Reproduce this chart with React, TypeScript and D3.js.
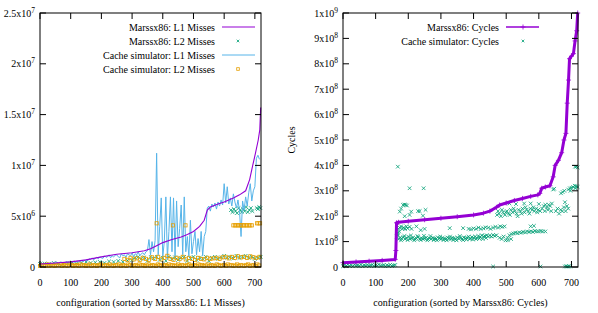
import React from "react";
import * as d3 from "d3";

// ---- shared ----
const configTicks = [0, 100, 200, 300, 400, 500, 600, 700];

// ---- left panel: misses, values in units of 1e6 ----
const missTickVals = [0, 5, 10, 15, 20, 25];
const missTickLabels = [["0", ""], ["5x10", "6"], ["1x10", "7"], ["1.5x10", "7"], ["2x10", "7"], ["2.5x10", "7"]];

// Marssx86 L1 misses (sorted, so it only goes up)
const marssL1Idx = [0, 50, 100, 150, 200, 250, 300, 340, 360, 380, 400, 430, 460, 480, 500, 520, 535, 545, 555, 580, 600, 630, 650, 670, 683, 693, 702, 711, 716, 719];
const marssL1 = [0.3, 0.4, 0.5, 0.7, 1.0, 1.25, 1.4, 1.6, 1.8, 2.1, 2.4, 2.7, 2.95, 3.2, 3.5, 4.0, 4.6, 5.6, 5.9, 6.2, 6.4, 6.8, 7.1, 7.5, 8.6, 10.0, 11.2, 12.5, 13.5, 15.7];

// Cache simulator L1 misses, one value every 5 configurations
const simL1Step = 5;
const simL1 = [
  0.25, 0.3, 0.2, 0.35, 0.3, 0.25, 0.4, 0.3, 0.35, 0.3,
  0.4, 0.45, 0.3, 0.4, 0.5, 0.35, 0.45, 0.4, 0.5, 0.45,
  0.4, 0.55, 0.5, 0.45, 0.6, 0.5, 0.55, 0.6, 0.5, 0.65,
  0.7, 0.6, 0.8, 0.75, 0.9, 0.7, 0.85, 0.95, 0.8, 1.0,
  0.9, 0.85, 1.1, 0.95, 1.0, 1.2, 0.9, 1.1, 1.0, 1.15,
  1.2, 1.0, 0.9, 1.3, 1.1, 1.2, 0.95, 1.3, 1.2, 1.1,
  1.4, 1.0, 1.3, 1.2, 1.5, 1.1, 1.3, 1.4, 1.2, 1.5,
  1.6, 2.7, 1.2, 2.5, 1.5, 2.6,
  11.2,
  1.2, 4.0, 6.8, 1.0, 2.5, 6.9, 0.8, 3.5, 6.9, 1.5,
  6.8, 1.0, 6.5, 2.0, 3.8, 6.1, 1.2, 6.9, 1.5, 3.0,
  1.0, 4.6, 1.3, 2.5, 3.5, 1.2, 2.8, 1.5, 3.5, 1.1,
  3.0, 3.5,
  5.8, 6.0, 5.5, 6.2, 5.9, 6.3, 5.7, 6.4, 6.0, 6.6,
  6.1, 8.2, 6.3, 7.9, 6.2, 6.8, 6.0, 7.2, 6.4, 5.8,
  6.6, 5.5, 3.0, 6.5, 5.6, 6.9, 6.0, 7.3, 8.2, 6.5,
  7.5, 7.9,
  10.7, 11.0, 10.6,
];

// Marssx86 L2 misses: [configuration, value]
const marssL2: [number, number][] = [
  [0, 0.3], [15, 0.35], [30, 0.3], [45, 0.4], [60, 0.35], [75, 0.3], [90, 0.4], [105, 0.45], [120, 0.35], [135, 0.4],
  [150, 0.5], [165, 0.4], [180, 0.45], [195, 0.5], [210, 0.4], [225, 0.55], [240, 0.5], [255, 0.6], [270, 0.5], [285, 0.65],
  [300, 0.7], [310, 0.9], [320, 1.0], [330, 0.8], [340, 0.95], [350, 0.6], [360, 1.0], [370, 0.85], [380, 1.0], [390, 0.7],
  [400, 0.9], [410, 0.6], [420, 1.0], [430, 0.8], [440, 0.95], [450, 0.7], [460, 0.9], [470, 1.0], [480, 0.6], [490, 0.85],
  [500, 1.0], [510, 0.7], [520, 0.9], [530, 0.8], [540, 1.0], [550, 0.6], [560, 0.9], [570, 1.0], [580, 0.8], [590, 0.95],
  [600, 1.1], [610, 0.9], [620, 1.0], [630, 0.85], [640, 1.1], [650, 0.9], [660, 1.0], [670, 1.1], [680, 0.9], [690, 1.0],
  [700, 0.8], [710, 0.9], [719, 1.0],
  [622, 5.6], [627, 5.4], [632, 5.7], [637, 5.5], [642, 5.3], [647, 5.8], [652, 5.6], [657, 5.4], [662, 5.7], [667, 5.5],
  [672, 5.9], [677, 5.4], [682, 5.6], [687, 5.8], [692, 5.5], [706, 5.8], [710, 5.7], [714, 5.9], [718, 5.8],
];

// Cache simulator L2 misses: the low band, one value every 6 configurations
const simL2BaseStep = 6;
const simL2Base = [
  0.1, 0.2, 0.15, 0.1, 0.25, 0.1, 0.2, 0.15, 0.1, 0.2,
  0.15, 0.25, 0.1, 0.2, 0.15, 0.1, 0.25, 0.2, 0.1, 0.15,
  0.2, 0.1, 0.25, 0.15, 0.2, 0.1, 0.15, 0.25, 0.1, 0.2,
  0.15, 0.1, 0.2, 0.25, 0.1, 0.15, 0.2, 0.1, 0.25, 0.15,
  0.1, 0.2, 0.15, 0.25, 0.1, 0.2, 0.15, 0.1, 0.25, 0.2,
  0.1, 0.15, 0.2, 0.1, 0.25, 0.15, 0.2, 0.1, 0.15, 0.25,
  0.1, 0.2, 0.15, 0.1, 0.25, 0.2, 0.1, 0.15, 0.2, 0.1,
  0.25, 0.15, 0.2, 0.1, 0.15, 0.25, 0.1, 0.2, 0.15, 0.1,
  0.2, 0.25, 0.1, 0.15, 0.2, 0.1, 0.25, 0.15, 0.2, 0.1,
  0.15, 0.25, 0.1, 0.2, 0.15, 0.1, 0.25, 0.2, 0.1, 0.15,
  0.2, 0.1, 0.25, 0.15, 0.2, 0.1, 0.15, 0.25, 0.1, 0.2,
  0.15, 0.1, 0.2, 0.25, 0.1, 0.15, 0.2, 0.1, 0.25, 0.15,
];
// the rest of the cache simulator L2 points: [configuration, value]
const simL2: [number, number][] = [
  [275, 0.8], [285, 0.7], [295, 0.9], [305, 0.75], [315, 0.85], [325, 0.7], [335, 0.9], [345, 0.8], [355, 0.7], [365, 0.95],
  [375, 0.8], [385, 1.0], [395, 0.75], [405, 0.9], [415, 1.1], [425, 0.8], [435, 0.7], [445, 0.9], [455, 0.8], [465, 1.0],
  [475, 0.75], [485, 0.9], [495, 0.8], [505, 0.7], [515, 0.9], [525, 0.8], [535, 0.75], [545, 0.9], [555, 0.8], [565, 0.85],
  [575, 0.9], [585, 0.8], [595, 0.95], [605, 1.0], [615, 0.85], [625, 1.0], [635, 0.9], [645, 1.05], [655, 0.95], [665, 1.0],
  [675, 0.9], [685, 1.05], [695, 0.95], [705, 0.9], [715, 1.0],
  [380, 4.3], [433, 4.1], [474, 4.1],
  [630, 4.1], [635, 4.1], [640, 4.1], [645, 4.1], [650, 4.1], [655, 4.1], [660, 4.1], [665, 4.1], [670, 4.1], [675, 4.1],
  [680, 4.1], [685, 4.1], [690, 4.1], [707, 4.3], [712, 4.3], [717, 4.3],
];

// ---- right panel: cycles, values in units of 1e8 ----
const cycleTickVals = [0, 1, 2, 3, 4, 5, 6, 7, 8, 9, 10];
const cycleTickLabels = [["0", ""], ["1x10", "8"], ["2x10", "8"], ["3x10", "8"], ["4x10", "8"], ["5x10", "8"], ["6x10", "8"], ["7x10", "8"], ["8x10", "8"], ["9x10", "8"], ["1x10", "9"]];

const marssCyclesIdx = [0, 40, 80, 120, 160, 162, 164, 170, 200, 250, 300, 350, 400, 430, 450, 470, 480, 500, 525, 550, 575, 597, 603, 609, 620, 634, 644, 650, 660, 670, 677, 683, 687, 691, 694, 700, 706, 711, 716, 719];
const marssCycles = [0.17, 0.2, 0.23, 0.26, 0.3, 0.65, 1.74, 1.76, 1.8, 1.86, 1.92, 1.98, 2.05, 2.12, 2.2, 2.35, 2.44, 2.52, 2.62, 2.7, 2.78, 2.84, 2.9, 3.1, 3.15, 3.2, 3.55, 4.0, 4.2, 4.5, 5.0, 5.26, 6.45, 7.36, 8.2, 8.3, 8.4, 8.9, 9.3, 10.0];

// cache simulator cycles below config 160, one value every 5 configurations
const simCyclesLowStep = 5;
const simCyclesLow = [0.03, 0.08, 0.05, 0.1, 0.04, 0.07, 0.03, 0.09, 0.05, 0.06, 0.04, 0.1, 0.03, 0.07, 0.05, 0.08, 0.04, 0.06, 0.09, 0.03, 0.07, 0.05, 0.1, 0.04, 0.06, 0.08, 0.03, 0.07, 0.05, 0.09, 0.04, 0.06, 0.08];
const simCycles: [number, number][] = [
  [165, 1.2], [170, 1.1], [175, 1.15], [180, 1.12], [185, 1.18], [190, 1.1], [195, 1.14], [200, 1.2], [205, 1.1], [210, 1.13],
  [215, 1.16], [220, 1.1], [225, 1.12], [230, 1.18], [235, 1.1], [240, 1.14], [245, 1.1], [250, 1.12], [255, 1.16], [260, 1.1],
  [265, 1.13], [270, 1.1], [275, 1.15], [280, 1.12], [285, 1.1], [290, 1.17], [295, 1.12], [300, 1.1], [305, 1.15], [310, 1.12],
  [315, 1.1], [320, 1.16], [325, 1.12], [330, 1.1], [335, 1.15], [340, 1.13], [345, 1.1], [350, 1.16], [355, 1.12], [360, 1.14],
  [365, 1.1], [370, 1.17], [375, 1.13], [380, 1.15], [385, 1.2], [390, 1.12], [395, 1.18], [400, 1.15], [405, 1.2], [410, 1.14],
  [415, 1.22], [420, 1.18], [425, 1.25], [430, 1.2], [435, 1.22], [440, 1.25], [445, 1.2], [450, 1.24], [455, 1.2], [460, 1.26],
  [465, 1.22], [470, 1.25],
  [168, 1.25], [178, 1.05], [188, 1.22], [198, 1.06], [208, 1.24], [218, 1.05], [228, 1.22], [238, 1.06], [248, 1.23], [258, 1.05],
  [268, 1.22], [278, 1.06], [288, 1.05], [298, 1.2], [308, 1.06], [318, 1.05], [328, 1.2], [338, 1.06], [348, 1.05], [358, 1.22],
  [368, 1.06], [378, 1.08], [388, 1.1], [398, 1.08], [408, 1.1], [418, 1.12], [428, 1.1], [438, 1.14],
  [166, 1.3], [168, 1.35], [170, 1.5], [172, 1.4], [174, 1.55], [178, 1.6], [182, 1.5], [186, 1.55], [190, 1.5], [194, 1.6],
  [198, 1.52], [204, 1.58], [210, 1.5], [225, 1.6], [238, 1.45], [250, 1.5], [327, 1.53], [368, 1.53],
  [168, 3.95], [174, 2.18], [178, 2.3], [184, 2.44], [188, 2.46], [192, 2.45], [196, 2.42], [189, 2.0], [204, 2.05], [209, 2.18],
  [204, 3.1], [230, 2.2], [235, 2.2], [245, 2.02], [247, 3.1], [253, 2.25],
  [385, 1.5], [392, 1.48], [400, 1.52], [408, 1.5], [415, 1.55], [422, 1.5], [430, 1.52], [437, 1.56], [445, 1.55], [452, 1.5],
  [460, 1.55], [467, 1.58], [475, 1.55], [482, 1.6], [488, 1.58], [495, 1.6],
  [472, 2.05], [478, 2.1], [484, 2.0], [490, 2.15], [496, 2.05], [502, 2.2], [508, 2.1], [514, 2.25], [520, 2.15], [526, 2.2],
  [532, 2.1], [538, 2.25], [544, 2.2], [550, 2.3], [556, 2.15], [562, 2.25], [568, 2.2], [574, 2.3], [580, 2.25], [586, 2.2],
  [592, 2.3], [598, 2.25], [604, 2.2], [610, 2.3],
  [475, 2.2], [487, 2.25], [499, 2.15], [511, 2.05], [523, 2.3], [535, 2.0], [547, 2.1], [559, 2.35], [571, 2.1], [583, 2.35], [595, 2.15],
  [510, 2.5], [530, 2.48], [555, 2.5], [575, 2.5], [600, 2.48],
  [480, 1.15], [486, 1.1], [492, 1.2], [498, 1.05], [504, 1.15], [510, 1.25], [516, 1.3], [522, 1.32], [528, 1.35], [534, 1.33],
  [540, 1.36], [546, 1.35], [552, 1.38], [558, 1.36], [564, 1.4], [570, 1.38], [576, 1.4], [582, 1.38], [588, 1.42], [594, 1.4],
  [600, 1.4], [606, 1.42], [612, 1.4], [620, 1.4], [575, 1.6], [585, 1.62], [505, 1.05], [515, 1.1],
  [615, 2.4], [620, 2.45], [625, 2.35], [630, 2.45], [635, 2.4], [640, 2.5], [618, 2.2], [628, 2.25], [638, 2.2],
  [644, 3.05], [647, 3.08],
  [652, 2.2], [657, 2.3], [662, 2.1], [667, 2.25], [672, 2.2], [677, 2.35], [682, 2.2], [686, 2.4], [690, 2.3], [680, 2.55],
  [668, 2.9], [673, 2.95], [678, 3.0], [690, 3.05], [695, 3.1], [700, 3.12], [705, 3.15], [710, 3.2], [715, 3.18], [719, 3.15],
  [712, 3.1], [697, 3.0],
  [711, 3.95], [715, 3.95], [719, 3.92],
  [460, 0.02], [605, 0.02], [680, 0.02], [684, 0.03], [688, 0.02], [692, 0.03], [696, 0.02],
];

const PURPLE = "#9400d3";
const GREEN = "#009e73";
const BLUE = "#56b4e9";
const ORANGE = "#e69f00";
const FONT = "'Liberation Serif', 'Times New Roman', serif";

const top = 13, bottom = 267;

function Cross({ x, y, s = 1.8 }) {
  return <path d={`M${x - s},${y - s}L${x + s},${y + s}M${x - s},${y + s}L${x + s},${y - s}`} stroke={GREEN} strokeWidth={0.8} fill="none" />;
}
function Square({ x, y, s = 1.6 }) {
  return <rect x={x - s} y={y - s} width={2 * s} height={2 * s} stroke={ORANGE} strokeWidth={0.8} fill="none" />;
}
function Plus({ x, y, s = 2.5 }) {
  return <path d={`M${x - s},${y}H${x + s}M${x},${y - s}V${y + s}`} stroke={PURPLE} strokeWidth={0.8} fill="none" />;
}

function Label({ x, y, base, exp, anchor = "end" }) {
  return (
    <text x={x} y={y} textAnchor={anchor} fontFamily={FONT} fontSize={10} fill="#000">
      {base}
      {exp && <tspan dy={-4} fontSize={7.5}>{exp}</tspan>}
    </text>
  );
}

// frame, ticks on all four sides (pointing in), tick labels
function Frame({ x, y, yTicks, yLabels, xLabel }) {
  const [x0, x1] = x.range();
  return (
    <g>
      {configTicks.map((t) => (
        <g key={"x" + t}>
          <line x1={x(t)} x2={x(t)} y1={bottom} y2={bottom - 6} stroke="#000" />
          <line x1={x(t)} x2={x(t)} y1={top} y2={top + 6} stroke="#000" />
          <text x={x(t)} y={286} textAnchor="middle" fontFamily={FONT} fontSize={10}>{t}</text>
        </g>
      ))}
      {yTicks.map((t, i) => (
        <g key={"y" + t}>
          <line x1={x0} x2={x0 + 6} y1={y(t)} y2={y(t)} stroke="#000" />
          <line x1={x1} x2={x1 - 6} y1={y(t)} y2={y(t)} stroke="#000" />
          <Label x={x0 - 5} y={y(t) + 3.5} base={yLabels[i][0]} exp={yLabels[i][1]} />
        </g>
      ))}
      <rect x={x0} y={top} width={x1 - x0} height={bottom - top} fill="none" stroke="#000" />
      <text x={(x0 + x1) / 2} y={306} textAnchor="middle" fontFamily={FONT} fontSize={10}>{xLabel}</text>
    </g>
  );
}

function LeftPanel() {
  const x = d3.scaleLinear().domain([0, 720]).range([40, 261]);
  const y = d3.scaleLinear().domain([0, 25]).range([bottom, top]);
  const line = d3.line<[number, number]>().x((d) => x(d[0])).y((d) => y(d[1]));
  const l1 = marssL1Idx.map((c, i) => [c, marssL1[i]] as [number, number]);
  const sim = simL1.map((v, i) => [i * simL1Step, v] as [number, number]);
  const base = simL2Base.map((v, i) => [i * simL2BaseStep, v] as [number, number]);
  const legendText = ["Marssx86: L1 Misses", "Marssx86: L2 Misses", "Cache simulator: L1 Misses", "Cache simulator: L2 Misses"];
  const rows = [27, 41, 55, 69];
  return (
    <g>
      {marssL2.map((d, i) => <Cross key={"g" + i} x={x(d[0])} y={y(d[1])} />)}
      <path d={line(sim)} fill="none" stroke={BLUE} strokeWidth={1} />
      {base.map((d, i) => <Square key={"b" + i} x={x(d[0])} y={y(d[1])} />)}
      {simL2.map((d, i) => <Square key={"o" + i} x={x(d[0])} y={y(d[1])} />)}
      <path d={line(l1)} fill="none" stroke={PURPLE} strokeWidth={1.1} />
      <Frame x={x} y={y} yTicks={missTickVals} yLabels={missTickLabels} xLabel="configuration (sorted by Marssx86: L1 Misses)" />
      {legendText.map((t, i) => (
        <text key={t} x={215} y={rows[i] + 3.5} textAnchor="end" fontFamily={FONT} fontSize={10}>{t}</text>
      ))}
      <line x1={222} x2={255} y1={rows[0]} y2={rows[0]} stroke={PURPLE} strokeWidth={1.1} />
      <Cross x={238} y={rows[1]} s={1.3} />
      <line x1={222} x2={255} y1={rows[2]} y2={rows[2]} stroke={BLUE} strokeWidth={1} />
      <Square x={238} y={rows[3]} s={1.3} />
    </g>
  );
}

function RightPanel() {
  const x = d3.scaleLinear().domain([0, 720]).range([343, 578]);
  const y = d3.scaleLinear().domain([0, 10]).range([bottom, top]);
  const line = d3.line<[number, number]>().x((d) => x(d[0])).y((d) => y(d[1]));
  const cyc = marssCyclesIdx.map((c, i) => [c, marssCycles[i]] as [number, number]);
  const low = simCyclesLow.map((v, i) => [i * simCyclesLowStep, v] as [number, number]);
  const rows = [27, 41];
  return (
    <g>
      {low.map((d, i) => <Cross key={"l" + i} x={x(d[0])} y={y(d[1])} />)}
      {simCycles.map((d, i) => <Cross key={"s" + i} x={x(d[0])} y={y(d[1])} />)}
      <path d={line(cyc)} fill="none" stroke={PURPLE} strokeWidth={3} strokeLinejoin="round" />
      {cyc.map((d, i) => <Plus key={"p" + i} x={x(d[0])} y={y(d[1])} />)}
      <Frame x={x} y={y} yTicks={cycleTickVals} yLabels={cycleTickLabels} xLabel="configuration (sorted by Marssx86: Cycles)" />
      <text x={499} y={rows[0] + 3.5} textAnchor="end" fontFamily={FONT} fontSize={10}>Marssx86: Cycles</text>
      <text x={499} y={rows[1] + 3.5} textAnchor="end" fontFamily={FONT} fontSize={10}>Cache simulator: Cycles</text>
      <line x1={506} x2={539} y1={rows[0]} y2={rows[0]} stroke={PURPLE} strokeWidth={1.5} />
      <Plus x={523} y={rows[0]} />
      <Cross x={523} y={rows[1]} s={1.3} />
      <text transform="translate(295,140) rotate(-90)" textAnchor="middle" fontFamily={FONT} fontSize={10}>Cycles</text>
    </g>
  );
}

export default function App() {
  return (
    <svg width={598} height={313} style={{ position: "absolute", left: 0, top: 0, background: "#fff" }}>
      <LeftPanel />
      <RightPanel />
    </svg>
  );
}
